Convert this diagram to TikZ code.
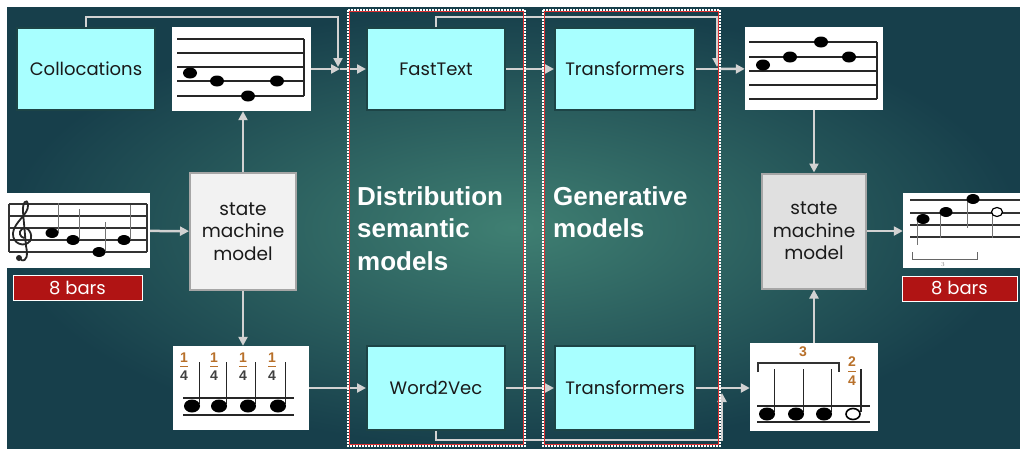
\documentclass[tikz,border=0pt]{standalone}
\usepackage{fontspec}
\usepackage{xcolor}
\usepackage{tikz}
\usetikzlibrary{arrows.meta,positioning}

\newfontfamily\boxfont{Poppins}
\newfontfamily\headfont{Liberation Sans}

\definecolor{bgin}{HTML}{3F7F72}
\definecolor{bgout}{HTML}{173F4B}
\definecolor{cyanbox}{HTML}{A8FFFF}
\definecolor{boxedge}{HTML}{1D4446}
\definecolor{textdark}{HTML}{1A1A1A}
\definecolor{connect}{HTML}{D2D2D2}
\definecolor{barred}{HTML}{B01414}
\definecolor{smlight}{HTML}{F2F2F2}
\definecolor{smdark}{HTML}{E0E0E0}
\definecolor{smedge}{HTML}{A6A6A6}
\definecolor{fracbrown}{HTML}{B8702A}
\definecolor{frameRed}{HTML}{E03030}

\begin{document}
\begin{tikzpicture}[x=1pt, y=-1pt,
        model/.style={draw=boxedge, line width=2pt, fill=cyanbox, text=textdark,
                      font=\boxfont\fontsize{18}{21}\selectfont,
                      minimum width=138pt, minimum height=82pt, inner sep=0pt},
        sheet/.style={fill=white, minimum width=138pt, minimum height=84pt, inner sep=0pt},
        machine/.style={draw=smedge, line width=2pt, text=textdark, align=center,
                        font=\boxfont\fontsize{18.5}{22.5}\selectfont,
                        minimum width=104pt, minimum height=115pt, inner sep=0pt},
        bars/.style={draw=white, line width=1pt, fill=barred, text=white,
                     font=\boxfont\fontsize{18}{20}\selectfont,
                     minimum height=25pt, inner sep=0pt},
        head/.style={align=left, text=white, inner sep=0pt, anchor=north west,
                     font=\headfont\bfseries\fontsize{26}{32.5}\selectfont},
        conn/.style={draw=connect, line width=2.5pt,
                     -{Triangle[length=9pt,width=9pt]}},
        plain/.style={draw=connect, line width=2.5pt},
        frac/.style={text=fracbrown, inner sep=0pt,
                     font=\headfont\bfseries\fontsize{14}{14}\selectfont},
        staffline/.style={line width=1.6pt, black!85},
        stem/.style={line width=1.4pt, black!85},
        thinstem/.style={line width=1pt, black!55}
    ]

    % page and background
    \useasboundingbox (0,0) rectangle (1020,448);
    \clip (0,0) rectangle (1020,448);
    \fill[white] (0,0) rectangle (1020,448);
    \shade[inner color=bgin, outer color=bgout] (7,7) rectangle (1020,448);

    % top row
    \node[model] (colloc) at (86,69) {Collocations};
    \node[sheet, minimum width=139pt] (staffA) at (241.5,69) {};
    \node[model] (fast) at (436,69) {FastText};
    \node[model, minimum width=140pt] (transA) at (625,69) {Transformers};
    \node[sheet, minimum height=83pt] (staffB) at (814,68.5) {};

    % middle row
    \node[sheet, minimum width=143pt, minimum height=75pt] (staffIn) at (78.5,230.5) {};
    \node[bars, minimum width=129pt] (barsIn) at (77.5,288) {8 bars};
    \node[machine, fill=smlight, minimum width=106pt, minimum height=117pt] (smA) at (243,231.5) {state\\machine\\model};
    \node[machine, fill=smdark] (smB) at (814,231) {state\\machine\\model};
    \node[sheet, minimum width=125pt, minimum height=75pt] (staffOut) at (965.5,230.5) {};
    \node[bars, minimum width=115pt] (barsOut) at (959.5,288.5) {8 bars};

    % bottom row
    \node[sheet, minimum width=136pt] (staffQ) at (240.5,388) {};
    \node[model, minimum height=84pt] (word) at (436,388) {Word2Vec};
    \node[model, minimum width=140pt, minimum height=84pt] (transB) at (625,388) {Transformers};
    \node[sheet, minimum width=128pt, minimum height=88pt] (staffT) at (814,387) {};

    % group labels
    \node[head] (distLbl) at (357,186) {Distribution\\semantic\\models};
    \node[head] (genLbl) at (553,186) {Generative\\models};

    % staff A
    \foreach \y in {39,52.7,66.7,81,95.7}
        \draw[staffline] (177,\y) -- (304,\y);
    \draw[staffline] (304,39) -- (304,95.7);
    \foreach \x/\y in {190/73,217/81,248/96,277/81}
        \fill (\x,\y) ellipse [x radius=7pt, y radius=5.5pt];

    % staff B
    \foreach \y in {42,57,71,85,99}
        \draw[staffline] (749,\y) -- (877,\y);
    \draw[staffline] (877,42) -- (877,99);
    \foreach \x/\y in {763/65,790/57,821/42,849/57}
        \fill (\x,\y) ellipse [x radius=7pt, y radius=5.5pt];

    % staff in, with clef
    \foreach \y in {204,216,228,240,252}
        \draw[line width=1.2pt, black!80] (9,\y) -- (147,\y);
    \draw[line width=1.2pt, black!80] (9,204) -- (9,252) (147,204) -- (147,252);
    \draw[line width=1.8pt, black!85] (21,260) .. controls (27,262) and (28,255) .. (26,246)
        -- (23,212) .. controls (22,203) and (27,197) .. (28,205)
        .. controls (29,214) and (14,222) .. (13,233)
        .. controls (12,244) and (25,248) .. (30,241)
        .. controls (34,234) and (27,225) .. (22,229)
        .. controls (18,232) and (20,237) .. (24,238);
    \fill[black!85] (19,258) circle (3pt);
    \foreach \x/\y/\t in {52/233/203,73/240/209,99/252/222,124/240/205} {
        \draw[thinstem] (\x+6,\y) -- (\x+6,\t);
        \fill (\x,\y) ellipse [x radius=6.5pt, y radius=5pt];
    }

    % staff out
    \foreach \y in {200,213,225,237}
        \draw[line width=1.2pt, black!80] (910,\y) -- (1020,\y);
    \draw[thinstem] (917,219) -- (917,245);
    \draw[thinstem] (940,212) -- (940,238);
    \draw[thinstem] (967,199) -- (967,228);
    \draw[thinstem] (992,212) -- (992,238);
    \fill (923,219) ellipse [x radius=6.5pt, y radius=5pt];
    \fill (946,212) ellipse [x radius=6.5pt, y radius=5pt];
    \fill (973,199) ellipse [x radius=6.5pt, y radius=5pt];
    \draw[line width=1.2pt, fill=white] (997,212) ellipse [x radius=5.5pt, y radius=4.5pt];
    \draw[line width=1pt, black!60] (912,252) -- (912,259) -- (977,259) -- (977,252);
    \node[text=black!50, font=\fontsize{6}{6}\selectfont, inner sep=0pt] (tripOut) at (943,265) {3};

    % staff of quarters
    \draw[staffline] (183,398) -- (294,398) (183,415) -- (294,415);
    \foreach \x/\f in {192/184,219/214,248/243,278/272} {
        \draw[stem] (\x+7.5,362) -- (\x+7.5,404);
        \fill (\x,406) ellipse [x radius=8pt, y radius=6.5pt];
        \node[frac] at (\f,358) {1};
        \draw[fracbrown, line width=1pt] (\f-4,366.5) -- (\f+4,366.5);
        \node[frac, text=black!75] at (\f,376) {4};
    }

    % staff of triplet
    \draw[staffline] (757,406) -- (870,406) (757,422) -- (870,422);
    \foreach \x in {767,796,824} {
        \draw[stem] (\x+7.5,369) -- (\x+7.5,412);
        \fill (\x,414) ellipse [x radius=8pt, y radius=6.5pt];
    }
    \draw[stem] (861,369) -- (861,412);
    \draw[line width=1.6pt, fill=white] (853,414) ellipse [x radius=7pt, y radius=5.5pt];
    \draw[line width=1.2pt, black!80] (758,372) -- (758,363) -- (839,363) -- (839,372);
    \node[frac] (tripT) at (803,352) {3};
    \node[frac] (metreT) at (852,362) {2};
    \draw[fracbrown, line width=1pt] (848,371.5) -- (856,371.5);
    \node[frac] (metreB) at (852,381) {4};

    % junctions
    \coordinate (joinA) at (340,69);
    \coordinate (joinB) at (718,69);
    \coordinate (joinC) at (720,388);
    \coordinate (upC) at (722,393);

    % connectors
    \draw[conn] (staffIn) -- (smA);
    \draw[conn] (smA.north) -- (smA.north |- staffA.south);
    \draw[conn] (smA.south) -- (smA.south |- staffQ.north);
    \draw[conn] (staffA) -- (joinA);
    \draw[conn] (colloc.north) |- (338,17) -- (338,67);
    \draw[conn] (joinA) -- (fast);
    \draw[conn] (fast) -- (transA);
    \draw[conn] (fast.north) |- (717,17) -- (717,67);
    \draw[plain] (transA) -- (joinB);
    \draw[conn] (joinB) -- (staffB);
    \draw[conn] (staffB) -- (smB);
    \draw[conn] (smB) -- (staffOut.west |- smB);
    \draw[conn] (staffT) -- (smB);
    \draw[conn] (staffQ) -- (word);
    \draw[conn] (word) -- (transB);
    \draw[plain] (transB) -- (joinC);
    \draw[conn] (joinC) -- (staffT.west |- joinC);
    \draw[conn] (word.south) |- (722,440) -- (upC);

    % dotted frames
    \foreach \l/\r in {348/525,543/720} {
        \draw[frameRed, line width=1.2pt] (\l+1.8,11.8) rectangle (\r-1.8,444.2);
        \draw[white, line width=2pt, dash pattern=on 1.6pt off 1.4pt] (\l,10) rectangle (\r,446);
    }
\end{tikzpicture}
\end{document}
